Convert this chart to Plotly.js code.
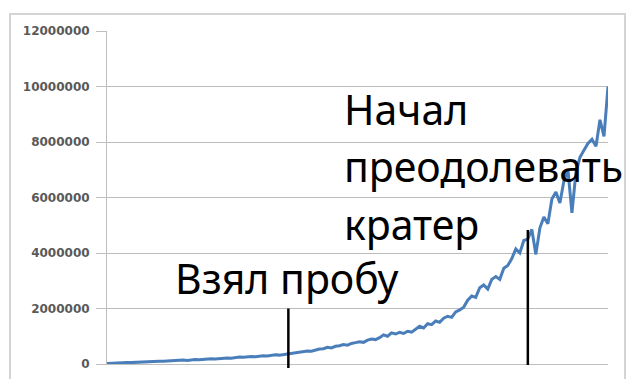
<!DOCTYPE html>
<html>
<head>
<meta charset="utf-8">
<script src="https://cdn.plot.ly/plotly-3.0.1.min.js"></script>
<style>
  html, body { margin: 0; padding: 0; background: #ffffff; }
  #chart { width: 632px; height: 379px; }
</style>
</head>
<body>
<div id="chart"></div>
<script>
// Sample number along the run
const samples = [
  1,2,3,4,5,6,7,8,9,10,11,12,13,14,15,16,17,18,19,20,
  21,22,23,24,25,26,27,28,29,30,31,32,33,34,35,36,37,38,39,40,
  41,42,43,44,45,46,47,48,49,50,51,52,53,54,55,56,57,58,59,60,
  61,62,63,64,65,66,67,68,69,70,71,72,73,74,75,76,77,78,79,80,
  81,82,83,84,85,86,87,88,89,90,91,92,93,94,95,96,97,98,99,100,
  101,102,103,104,105,106,107,108,109,110,111,112,113,114,115,116,117,118,119,120,
  121,122,123,124,125,126
];

// Measured level, in millions
const levelMillions = [
  0.02,0.03,0.03,0.04,0.04,0.05,0.05,0.06,0.07,0.07,
  0.08,0.08,0.09,0.10,0.10,0.11,0.12,0.12,0.13,0.14,
  0.13,0.15,0.16,0.15,0.17,0.18,0.19,0.18,0.20,0.21,
  0.22,0.21,0.23,0.25,0.24,0.26,0.27,0.26,0.28,0.30,
  0.29,0.31,0.33,0.32,0.34,0.36,0.37,0.39,0.42,0.43,
  0.47,0.46,0.51,0.54,0.55,0.60,0.58,0.64,0.66,0.70,
  0.68,0.74,0.77,0.80,0.78,0.86,0.90,0.88,0.95,1.05,
  1.00,1.12,1.08,1.14,1.10,1.18,1.15,1.27,1.36,1.30,
  1.45,1.42,1.55,1.50,1.65,1.72,1.68,1.88,1.95,2.05,
  2.30,2.45,2.40,2.75,2.85,2.70,3.05,3.15,3.05,3.45,
  3.55,3.80,4.15,4.00,4.45,4.50,4.85,3.95,4.90,5.30,
  5.05,5.95,6.20,5.80,6.60,7.00,5.45,6.90,7.45,7.70,
  7.95,8.10,7.85,8.80,8.20,10.00
];

// Y axis ticks
const yTicks = [0, 2000000, 4000000, 6000000, 8000000, 10000000, 12000000];
const yTickLabels = ['0', '2000000', '4000000', '6000000', '8000000', '10000000', '12000000'];

// Marked moments: sample position, top of the marker (millions) and caption lines
const sampleTaken = { sample: 46.25, topMillions: 2.0, label: 'Взял пробу' };
const craterStart = { sample: 106, topMillions: 4.83, lines: ['Начал', 'преодолевать', 'кратер'] };

const levels = levelMillions.map(v => v * 1e6);

const W = 632, H = 379;
const M = { l: 107, r: 24, t: 31, b: 15 };
const plotW = W - M.l - M.r;
const plotH = H - M.t - M.b;
const yMax = 12e6;

// helpers turning page pixels into paper fractions
const px = x => (x - M.l) / plotW;
const py = y => (H - M.b - y) / plotH;
const vy = v => v / yMax;

const trace = {
  x: samples,
  y: levels,
  type: 'scatter',
  mode: 'lines',
  line: { color: '#4a7ebb', width: 3 },
  hoverinfo: 'skip'
};

const captionFont = { family: 'Noto Sans, Open Sans, sans-serif', size: 41, color: '#000000' };

function caption(text, left, baseline) {
  return {
    text: text,
    xref: 'paper', yref: 'paper',
    x: px(left), y: py(baseline - 16),
    xanchor: 'left', yanchor: 'middle',
    showarrow: false,
    font: captionFont,
    borderpad: 0
  };
}

const layout = {
  width: W, height: H,
  margin: M,
  paper_bgcolor: '#ffffff',
  plot_bgcolor: '#ffffff',
  showlegend: false,
  xaxis: {
    range: [1, 126],
    showgrid: false,
    zeroline: false,
    showline: true,
    linecolor: '#bfbfbf',
    linewidth: 1,
    showticklabels: false,
    ticks: ''
  },
  yaxis: {
    range: [0, yMax],
    tickvals: yTicks,
    ticktext: yTickLabels,
    showgrid: true,
    gridcolor: '#bcbcbc',
    gridwidth: 1,
    zeroline: false,
    showline: true,
    linecolor: '#bfbfbf',
    linewidth: 1,
    ticks: 'outside',
    ticklen: 10,
    tickcolor: '#bfbfbf',
    tickfont: { family: 'DejaVu Sans', size: 12, color: '#595959', weight: 'bold' },
    ticklabelstandoff: 4
  },
  shapes: [
    // chart frame
    {
      type: 'rect', xref: 'paper', yref: 'paper',
      x0: px(10), x1: px(625), y0: py(395), y1: py(14),
      line: { color: '#d4d4d4', width: 2 },
      fillcolor: 'rgba(0,0,0,0)',
      layer: 'below'
    },
    // marker for the sample
    {
      type: 'line', xref: 'x', yref: 'paper',
      x0: sampleTaken.sample, x1: sampleTaken.sample,
      y0: py(368), y1: vy(sampleTaken.topMillions * 1e6),
      line: { color: '#000000', width: 2.5 }
    },
    // marker for the crater
    {
      type: 'line', xref: 'x', yref: 'paper',
      x0: craterStart.sample, x1: craterStart.sample,
      y0: py(365), y1: vy(craterStart.topMillions * 1e6),
      line: { color: '#000000', width: 2.5 }
    }
  ],
  annotations: [
    caption(sampleTaken.label, 174, 293.5),
    caption(craterStart.lines[0], 343, 124.5),
    caption(craterStart.lines[1], 343, 182),
    caption(craterStart.lines[2], 343, 240)
  ]
};

Plotly.newPlot('chart', [trace], layout, { staticPlot: true, displayModeBar: false });
</script>
</body>
</html>
